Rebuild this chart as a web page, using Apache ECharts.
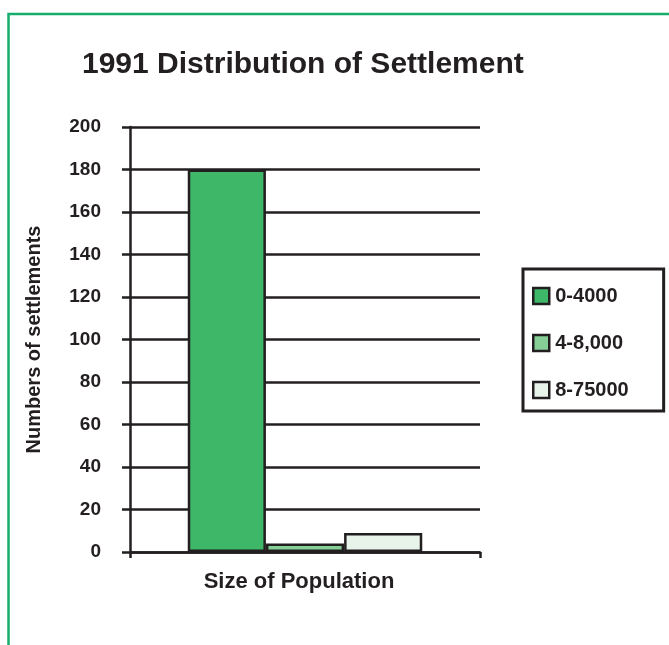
<!DOCTYPE html>
<html>
<head>
<meta charset="utf-8">
<style>html,body{margin:0;padding:0;background:#fff;}#main{width:669px;height:645px;}</style>
<script src="https://cdn.jsdelivr.net/npm/echarts@6/dist/echarts.min.js"></script>
</head>
<body>
<div id="main"></div>
<script>
var categories = ['Size of Population'];
var seriesNames = ['0-4000', '4-8,000', '8-75000'];
var seriesValues = [[180], [4], [9]];
var seriesColors = ['#3fb768', '#86cf96', '#e8f4ea'];
var yTicks = [0, 20, 40, 60, 80, 100, 120, 140, 160, 180, 200];

var ink = '#231f20';
var font = 'Liberation Sans, Arial, sans-serif';
var chart = echarts.init(document.getElementById('main'));
chart.setOption({
  backgroundColor: '#fff',
  animation: false,
  title: {
    text: '1991 Distribution of Settlement',
    left: 77, top: 45,
    textStyle: { fontFamily: font, fontSize: 30, fontWeight: 'bold', color: ink }
  },
  graphic: [{
    type: 'polyline', silent: true,
    shape: { points: [[669, 14], [8.5, 14], [8.5, 645]] },
    style: { stroke: '#14ad6b', lineWidth: 2.5, fill: null }
  }],
  legend: {
    orient: 'vertical', left: 523, top: 269,
    padding: [17, 35, 11, 9],
    itemGap: 27, itemWidth: 16, itemHeight: 16,
    borderColor: ink, borderWidth: 3,
    icon: 'rect',
    itemStyle: { borderColor: ink, borderWidth: 2.5 },
    textStyle: { fontFamily: font, fontSize: 20, fontWeight: 'bold', color: ink, padding: [0, 0, 0, 1] },
    data: seriesNames
  },
  grid: { left: 130, right: 189, top: 127, bottom: 93, containLabel: false },
  xAxis: {
    type: 'category', data: categories,
    name: 'Size of Population', nameLocation: 'middle', nameGap: 19,
    nameTextStyle: { fontFamily: font, fontSize: 22, fontWeight: 'bold', color: ink, padding: [0, 12, 0, 0] },
    axisLine: { show: true, lineStyle: { color: ink, width: 2.5 } },
    axisTick: { show: true, length: 6, lineStyle: { color: ink, width: 2.5 } },
    axisLabel: { show: false }
  },
  yAxis: {
    type: 'value', min: yTicks[0], max: yTicks[yTicks.length - 1], interval: 20,
    name: 'Numbers of settlements', nameLocation: 'middle', nameRotate: 90, nameGap: 86,
    nameTextStyle: { fontFamily: font, fontSize: 20, fontWeight: 'bold', color: ink },
    axisLine: { show: true, lineStyle: { color: ink, width: 2.5 } },
    axisTick: { show: true, length: 8, lineStyle: { color: ink, width: 2.5 } },
    axisLabel: { margin: 29, fontFamily: font, fontSize: 19, fontWeight: 'bold', color: ink },
    splitLine: { show: true, lineStyle: { color: ink, width: 2.5 } }
  },
  series: seriesNames.map(function (n, i) {
    return {
      name: n, type: 'bar', data: seriesValues[i],
      barGap: '0%', barCategoryGap: '33%',
      itemStyle: { color: seriesColors[i], borderColor: ink, borderWidth: 2.5 }
    };
  })
});
</script>
</body>
</html>
